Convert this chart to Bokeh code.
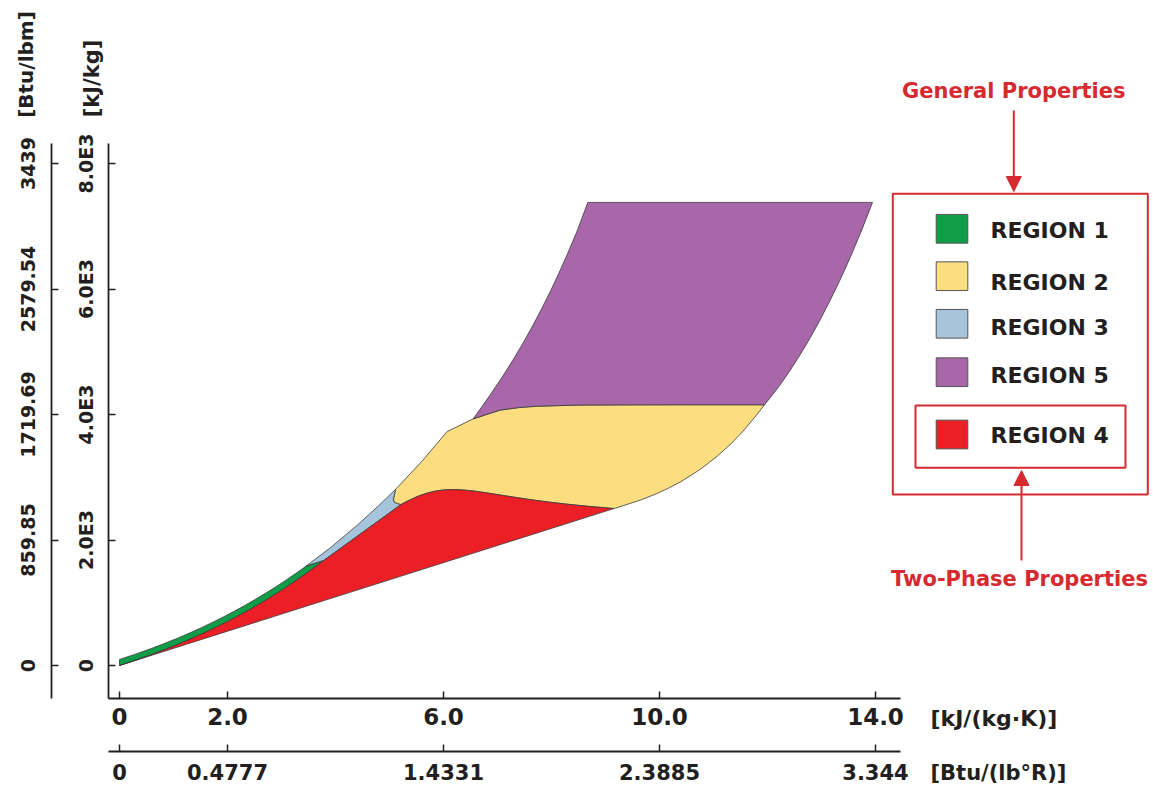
import math
from bokeh.plotting import figure
from bokeh.models import (LinearAxis, FixedTicker, Range1d, Label, Arrow, NormalHead)
from bokeh.core.properties import value
from bokeh.embed import file_html
from bokeh.resources import INLINE

# ---------------- data (entropy s [kJ/(kg K)], enthalpy h [kJ/kg]) ----------------
# saturated liquid line, 0.01 .. 350 C
sat_liq_s = [0.0, 0.2965, 0.5724, 0.8312, 1.0754, 1.3072, 1.5279, 1.7392, 1.9426, 2.1392,
             2.3305, 2.5177, 2.7020, 2.8849, 3.0685, 3.2552, 3.4494, 3.6601, 3.7784]
sat_liq_h = [0.0, 83.9, 167.5, 251.2, 335.0, 419.2, 503.8, 589.2, 675.5, 763.1,
             852.3, 943.6, 1037.6, 1135.0, 1236.9, 1345.0, 1462.2, 1594.5, 1671.2]
# saturated vapour line, 0.01 .. 350 C
sat_vap_s = [9.1555, 8.6661, 8.2556, 7.9082, 7.6105, 7.3541, 7.1296, 6.9293, 6.7502, 6.5867,
             6.4302, 6.2840, 6.1423, 6.0016, 5.8579, 5.7059, 5.5372, 5.3356, 5.2110]
sat_vap_h = [2500.9, 2537.4, 2573.5, 2608.8, 2642.9, 2675.6, 2706.0, 2733.5, 2757.4, 2777.2,
             2792.0, 2801.1, 2803.0, 2797.3, 2779.9, 2749.6, 2700.6, 2622.0, 2563.6]
# 100 MPa isobar, liquid part (273 .. 623 K)
p100_liq_s = [0.0, 0.2965, 0.5724, 0.8312, 1.0754, 1.3072, 1.5279, 1.7392, 1.9426, 2.1392,
              2.3305, 2.5177, 2.7020, 2.8849, 3.0685, 3.2552, 3.45]
p100_liq_h = [97, 181, 265, 350, 435, 520, 607, 694, 782, 871,
              962, 1055, 1150, 1249, 1352, 1461, 1580]
# 100 MPa isobar, region 3 part (623 .. 863 K)
p100_r3_s = [3.45, 3.9, 4.4, 4.8, 5.11]
p100_r3_h = [1580, 1873, 2233, 2547, 2805]
# B23 boundary (863 K / 100 MPa  ->  623 K / saturation)
b23_s = [5.11, 5.09, 5.07, 5.09, 5.15, 5.211]
b23_h = [2805, 2720, 2640, 2600, 2578, 2563.6]
# 100 MPa isobar, region 2 part (863 .. 1073 K)
p100_r2_s = [5.11, 5.6, 6.068]
p100_r2_h = [2805, 3254, 3729]
# 1073.15 K isotherm (100 MPa -> lowest pressure)
t1073_s = [6.068, 6.55, 7.05, 7.41, 7.74, 8.48, 9.54, 10.6, 11.944]
t1073_h = [3729, 3931, 4070, 4112, 4132, 4150, 4154, 4155, 4155]
# lowest-pressure isobar, region 2 part (273 .. 1073 K)
pmin_r2_s = [9.1555, 9.345, 9.673, 9.951, 10.187, 10.401, 10.763, 11.069, 11.341, 11.578,
             11.796, 11.944]
pmin_r2_h = [2500.9, 2551.1, 2644.6, 2739.1, 2834.8, 2931.9, 3130.4, 3335.2, 3546.6, 3764.8,
             3990.1, 4155]
# lowest-pressure isobar, region 5 part (1073 .. 2273 K)
pmin_r5_s = [11.944, 12.085, 12.226, 12.422, 12.61, 12.79, 12.958, 13.122, 13.278, 13.429,
             13.573, 13.761, 13.945]
pmin_r5_h = [4155, 4304, 4462, 4707, 4960, 5221, 5482, 5753, 6024, 6304,
             6584, 6974, 7380]
# 50 MPa isobar, region 5 part (1073 .. 2273 K)
p50_r5_s = [6.55, 6.856, 7.072, 7.28, 7.475, 7.653, 7.825, 7.988, 8.144, 8.293, 8.486, 8.672]
p50_r5_h = [3931, 4302, 4577, 4860, 5141, 5417, 5698, 5979, 6266, 6554, 6949, 7380]

# axes
s_ticks = [0, 2, 6, 10, 14]
s_labels = ["0", "2.0", "6.0", "10.0", "14.0"]
s_labels_us = ["0", "0.4777", "1.4331", "2.3885", "3.344"]
h_ticks = [0, 2000, 4000, 6000, 8000]
h_labels = ["0", "2.0E3", "4.0E3", "6.0E3", "8.0E3"]
h_labels_us = ["0", "859.85", "1719.69", "2579.54", "3439"]

legend_names = ["REGION 1", "REGION 2", "REGION 3", "REGION 5", "REGION 4"]
legend_colors = ["#0f9d48", "#fcdd80", "#a6c4dc", "#a767a9", "#ec1f27"]

# ---------------- build region polygons from the boundary arrays ----------------
red_s = sat_liq_s + sat_vap_s[::-1]
red_h = sat_liq_h + sat_vap_h[::-1]
green_s = p100_liq_s + sat_liq_s[::-1]
green_h = p100_liq_h + sat_liq_h[::-1]
blue_s = p100_r3_s + b23_s[1:] + [sat_liq_s[-1]]
blue_h = p100_r3_h + b23_h[1:] + [sat_liq_h[-1]]
yellow_s = b23_s[::-1] + p100_r2_s[1:] + t1073_s[1:] + pmin_r2_s[::-1][1:] + sat_vap_s[1:]
yellow_h = b23_h[::-1] + p100_r2_h[1:] + t1073_h[1:] + pmin_r2_h[::-1][1:] + sat_vap_h[1:]
purple_s = p50_r5_s + pmin_r5_s[::-1] + t1073_s[-2:1:-1]
purple_h = p50_r5_h + pmin_r5_h[::-1] + t1073_h[-2:1:-1]

# ---------------- figure (frame covers the whole canvas) ----------------
W, H = 1153, 787
PX0, PXS = 119.0, 54.0      # px of s=0, px per unit s
PY0, PYS = 665.0, 0.06275   # px of h=0, px per kJ/kg
def sx(px):
    return (px - PX0) / PXS
def hy(py):
    return (PY0 - py) / PYS

p = figure(width=W, height=H, x_range=Range1d(sx(0), sx(W)), y_range=Range1d(hy(H), hy(0)),
           output_backend="svg", toolbar_location=None, x_axis_location=None,
           y_axis_location=None, min_border=0, title=None)
p.xgrid.visible = False
p.ygrid.visible = False
p.outline_line_color = None
p.background_fill_color = "white"

FONT = "DejaVu Sans"
INK = "#231f20"
RED = "#d62a30"
EDGE = "#3b3b3b"

for xs, ys, c in [(yellow_s, yellow_h, legend_colors[1]), (purple_s, purple_h, legend_colors[3]),
                  (blue_s, blue_h, legend_colors[2]), (green_s, green_h, legend_colors[0]),
                  (red_s, red_h, legend_colors[4])]:
    p.patch(xs, ys, fill_color=c, line_color=EDGE, line_width=0.8)

# ---------------- axes ----------------
ax_left_in = sx(108)
ax_left_out = sx(51)
ax_bot_in = hy(698)
ax_bot_out = hy(751)
ybounds = (hy(698), hy(143))
xbounds = (sx(108), sx(900))

def style(ax, size, standoff):
    ax.axis_line_width = 1.8
    ax.axis_line_color = INK
    ax.major_tick_in = 7
    ax.major_tick_out = 0
    ax.major_tick_line_width = 1.5
    ax.major_tick_line_color = INK
    ax.minor_tick_in = 0
    ax.minor_tick_out = 0
    ax.major_label_text_font = FONT
    ax.major_label_text_font_style = "bold"
    ax.major_label_text_font_size = size
    ax.major_label_text_color = INK
    ax.major_label_standoff = standoff

y_in = LinearAxis(fixed_location=ax_left_in, bounds=ybounds, ticker=FixedTicker(ticks=h_ticks),
                  major_label_overrides=dict(zip(h_ticks, h_labels)),
                  major_label_orientation="vertical")
style(y_in, "19px", 12)
y_out = LinearAxis(fixed_location=ax_left_out, bounds=ybounds, ticker=FixedTicker(ticks=h_ticks),
                   major_label_overrides=dict(zip(h_ticks, h_labels_us)),
                   major_label_orientation="vertical")
style(y_out, "19px", 17)
x_in = LinearAxis(fixed_location=ax_bot_in, bounds=xbounds, ticker=FixedTicker(ticks=s_ticks),
                  major_label_overrides=dict(zip(s_ticks, s_labels)))
style(x_in, "23px", 9)
x_out = LinearAxis(fixed_location=ax_bot_out, bounds=xbounds, ticker=FixedTicker(ticks=s_ticks),
                   major_label_overrides=dict(zip(s_ticks, s_labels_us)))
style(x_out, "21px", 12)
p.add_layout(y_in, "left")
p.add_layout(y_out, "left")
p.add_layout(x_in, "below")
p.add_layout(x_out, "below")

def lab(x, y, t, size, color=INK, angle=0.0, align="center"):
    p.add_layout(Label(x=x, y=y, text=t, angle=angle, text_align=align, text_baseline="middle",
                       text_font=FONT, text_font_style="bold", text_font_size=size,
                       text_color=color))

lab(sx(25), hy(64), "[Btu/lbm]", "20px", angle=math.pi / 2)
lab(sx(91), hy(78), "[kJ/kg]", "21px", angle=math.pi / 2)
lab(sx(930), hy(718), "[kJ/(kg·K)]", "22px", align="left")
lab(sx(930), hy(772), "[Btu/(lb°R)]", "21px", align="left")

# ---------------- legend block ----------------
sw_y = [hy(v) for v in (228.3, 275.7, 323.3, 371.7, 434.0)]
tx_y = [hy(v) for v in (230.0, 281.7, 326.7, 375.0, 435.0)]
p.rect(x=[sx(951.5)] * 5, y=sw_y, width=31.6 / PXS, height=28.7 / PYS,
       fill_color=legend_colors, line_color="#555555", line_width=1)
p.text(x=[sx(990)] * 5, y=tx_y, text=legend_names, text_font=value(FONT),
       text_font_style="bold", text_font_size="22px", text_color=INK, text_baseline="middle")

p.quad(left=[sx(892.3), sx(915)], right=[sx(1147.3), sx(1125)],
       bottom=[hy(494), hy(467.3)], top=[hy(193.3), hy(405)],
       fill_color=None, line_color=RED, line_width=2)

lab(sx(1013.3), hy(90), "General Properties", "21px", color=RED)
lab(sx(1019), hy(578), "Two-Phase Properties", "21px", color=RED)
p.add_layout(Arrow(x_start=sx(1013.3), y_start=hy(110), x_end=sx(1013.3), y_end=hy(191),
                   line_color=RED, line_width=2,
                   end=NormalHead(size=15, fill_color=RED, line_color=RED)))
p.add_layout(Arrow(x_start=sx(1021), y_start=hy(560), x_end=sx(1021), y_end=hy(470),
                   line_color=RED, line_width=2,
                   end=NormalHead(size=15, fill_color=RED, line_color=RED)))

open("out.html", "w").write(file_html(p, INLINE))
